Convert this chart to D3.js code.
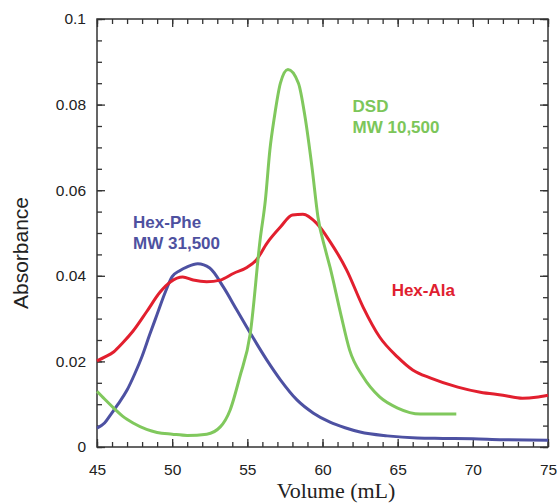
<!DOCTYPE html>
<html>
<head>
<meta charset="utf-8">
<script src="https://cdn.jsdelivr.net/npm/d3@7"></script>
<style>
    body { margin: 0; background: #fff; }
    svg { display: block; }
    .tick text { font-family: "Liberation Sans", Arial, sans-serif; }
</style>
</head>
<body>
<div id="chart"></div>
<script>
// Hex-Phe (blue)
var pheVol = [45, 45.5, 45.9, 46.4, 47, 47.5, 48, 48.5, 49, 49.5, 50, 50.5, 51, 51.7, 52.5, 53.4, 54.3, 55.2, 56.3, 57.2, 58.3, 59.4, 60.5, 61.5, 62.5, 64.3, 66.3, 68, 70, 72, 75];
var pheAbs = [0.0044, 0.0056, 0.0075, 0.0100, 0.0133, 0.0170, 0.0212, 0.0262, 0.0310, 0.0358, 0.0398, 0.0412, 0.0421, 0.0428, 0.0418, 0.0374, 0.0320, 0.0266, 0.0203, 0.0157, 0.0110, 0.0079, 0.0058, 0.0045, 0.0035, 0.0026, 0.0021, 0.0020, 0.0019, 0.0017, 0.0016];

// Hex-Ala (red)
var alaVol = [45, 45.5, 46.1, 46.7, 47.4, 48.3, 49.2, 49.9, 50.7, 51.4, 52.3, 53.2, 54.1, 55.0, 55.6, 56.3, 57.2, 58.0, 58.7, 59.6, 60.5, 61.6, 62.7, 63.8, 65.0, 66.0, 67.2, 69.0, 70.5, 72.0, 73.3, 74.2, 75];
var alaAbs = [0.0201, 0.0210, 0.0222, 0.0243, 0.0271, 0.0316, 0.0362, 0.0386, 0.0397, 0.0390, 0.0386, 0.0390, 0.0406, 0.0420, 0.0437, 0.0476, 0.0514, 0.0542, 0.0544, 0.0523, 0.0480, 0.0414, 0.0327, 0.0257, 0.0210, 0.0180, 0.0161, 0.0140, 0.0128, 0.0121, 0.0114, 0.0116, 0.0121];

// DSD (green)
var dsdVol = [45, 45.5, 46.2, 46.7, 47.4, 48.3, 49.0, 50, 51, 52.3, 53.2, 53.85, 54.5, 55.2, 55.85, 56.2, 56.5, 56.8, 57.2, 57.7, 58.4, 58.84, 59.3, 59.7, 60.2, 60.5, 61.2, 61.8, 62.7, 63.8, 65, 66.5, 68.9];
var dsdAbs = [0.0130, 0.0112, 0.0088, 0.0072, 0.0056, 0.0041, 0.0034, 0.0030, 0.0027, 0.0030, 0.0047, 0.0086, 0.0164, 0.0266, 0.0484, 0.0577, 0.0694, 0.0771, 0.0850, 0.0882, 0.0850, 0.0771, 0.0654, 0.0537, 0.0460, 0.0420, 0.0313, 0.0227, 0.0164, 0.0117, 0.0091, 0.0077, 0.0077];

var xTicks = [45, 50, 55, 60, 65, 70, 75];
var yTicks = [0, 0.02, 0.04, 0.06, 0.08, 0.1];
var yTickLabels = ["0", "0.02", "0.04", "0.06", "0.08", "0.1"];

var series = [
    {name: "Hex-Phe", vol: pheVol, abs: pheAbs, color: "#4d51a2"},
    {name: "Hex-Ala", vol: alaVol, abs: alaAbs, color: "#e21f2e"},
    {name: "DSD", vol: dsdVol, abs: dsdAbs, color: "#80c85d"}
];

var fullWidth = 557, fullHeight = 504;
var margin = {top: 19, right: 9, bottom: 57, left: 97},
    width = fullWidth - margin.left - margin.right,
    height = fullHeight - margin.top - margin.bottom;

var svg = d3.select("#chart").append("svg")
    .attr("width", fullWidth)
    .attr("height", fullHeight);

var g = svg.append("g")
    .attr("transform", "translate(" + margin.left + "," + margin.top + ")");

var x = d3.scaleLinear().domain([45, 75]).range([0, width]);
var y = d3.scaleLinear().domain([0, 0.1]).range([height, 0]);

var minorX = d3.range(45, 75.01, 1);
var minorY = d3.range(0, 0.1001, 0.005);

var axisColor = "#333";

// inward ticks on all four sides
function tickAxis(axis, cls, transform) {
    var a = g.append("g")
        .attr("class", cls)
        .attr("transform", transform)
        .call(axis);
    a.select(".domain").remove();
    a.selectAll("line").attr("stroke", axisColor).attr("stroke-width", 1.3);
    return a;
}

// minor ticks
tickAxis(d3.axisBottom(x).tickValues(minorX).tickSize(-5).tickFormat(""), "x minor", "translate(0," + height + ")");
tickAxis(d3.axisTop(x).tickValues(minorX).tickSize(-5).tickFormat(""), "x2 minor", "translate(0,0)");
tickAxis(d3.axisLeft(y).tickValues(minorY).tickSize(-5).tickFormat(""), "y minor", "translate(0,0)");
tickAxis(d3.axisRight(y).tickValues(minorY).tickSize(-5).tickFormat(""), "y2 minor", "translate(" + width + ",0)");

// major ticks
var xAxis = tickAxis(d3.axisBottom(x).tickValues(xTicks).tickSize(-8).tickPadding(17), "x axis", "translate(0," + height + ")");
xAxis.selectAll("text")
    .style("font-size", "15.5px")
    .attr("fill", "#222");
tickAxis(d3.axisTop(x).tickValues(xTicks).tickSize(-8).tickFormat(""), "x2 axis", "translate(0,0)");

var yAxis = tickAxis(d3.axisLeft(y).tickValues(yTicks).tickSize(-8).tickPadding(11)
    .tickFormat(function (d, i) { return yTickLabels[i]; }), "y axis", "translate(0,0)");
yAxis.selectAll("text")
    .style("font-size", "15.5px")
    .attr("fill", "#222");
tickAxis(d3.axisRight(y).tickValues(yTicks).tickSize(-8).tickFormat(""), "y2 axis", "translate(" + width + ",0)");

// frame
g.append("rect")
    .attr("width", width)
    .attr("height", height)
    .attr("fill", "none")
    .attr("stroke", axisColor)
    .attr("stroke-width", 1.5);

// curves
var line = d3.line()
    .x(function (d) { return x(d[0]); })
    .y(function (d) { return y(d[1]); })
    .curve(d3.curveMonotoneX);

series.forEach(function (s) {
    var pts = s.vol.map(function (v, i) { return [v, s.abs[i]]; });
    g.append("path")
        .datum(pts)
        .attr("fill", "none")
        .attr("stroke", s.color)
        .attr("stroke-width", 3)
        .attr("stroke-linejoin", "round")
        .attr("stroke-linecap", "butt")
        .attr("d", line);
});

// curve labels
function label(lines, vx, vy, color) {
    var t = g.append("text")
        .attr("x", x(vx))
        .attr("y", y(vy))
        .attr("fill", color)
        .style("font-family", "'Liberation Sans', Arial, sans-serif")
        .style("font-weight", "bold")
        .style("font-size", "17px");
    lines.forEach(function (l, i) {
        t.append("tspan")
            .attr("x", x(vx))
            .attr("dy", i === 0 ? 0 : 21)
            .text(l);
    });
}
label(["Hex-Phe", "MW 31,500"], 47.4, 0.0511, "#4e51a0");
label(["DSD", "MW 10,500"], 62.0, 0.0783, "#7cc65a");
label(["Hex-Ala"], 64.6, 0.0353, "#e0202f");

// axis titles
svg.append("text")
    .attr("transform", "translate(28,253) rotate(-90)")
    .attr("text-anchor", "middle")
    .style("font-family", "'Liberation Sans', Arial, sans-serif")
    .style("font-size", "21px")
    .attr("fill", "#222")
    .text("Absorbance");

svg.append("text")
    .attr("x", margin.left + x(60.9))
    .attr("y", 498)
    .attr("text-anchor", "middle")
    .style("font-family", "'Liberation Serif', 'Times New Roman', serif")
    .style("font-size", "22px")
    .attr("fill", "#222")
    .text("Volume (mL)");
</script>
</body>
</html>
